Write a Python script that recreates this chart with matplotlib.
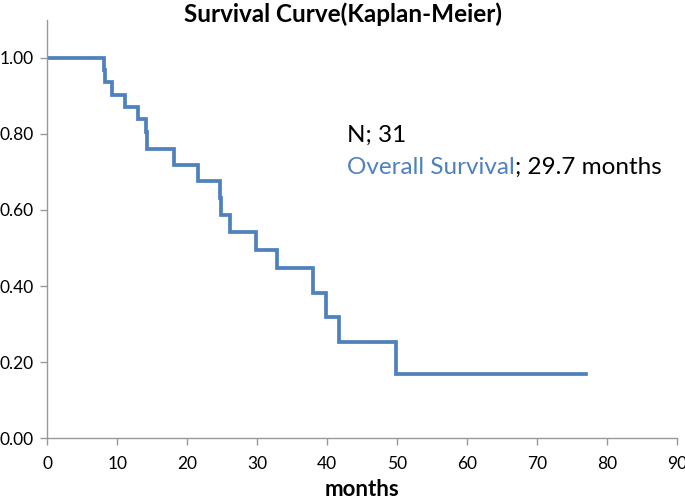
import matplotlib
matplotlib.use("Agg")
import matplotlib.pyplot as plt

# Kaplan-Meier step data (months, survival probability)
times = [0, 8.1, 8.2, 9.2, 11.1, 13.0, 14.1, 14.3, 18.1, 21.6, 24.7, 24.9,
         26.1, 29.8, 32.9, 38.0, 39.9, 41.7, 49.8, 77.0]
survival = [1.0, 0.968, 0.935, 0.903, 0.871, 0.839, 0.806, 0.760, 0.718, 0.677,
            0.631, 0.588, 0.543, 0.495, 0.447, 0.381, 0.320, 0.254, 0.170, 0.170]

x_ticks = [0, 10, 20, 30, 40, 50, 60, 70, 80, 90]
y_ticks = [0.0, 0.2, 0.4, 0.6, 0.8, 1.0]
y_tick_labels = ["0.00", "0.20", "0.40", "0.60", "0.80", "1.00"]

title = "Survival Curve(Kaplan-Meier)"
x_label = "months"
n_text = "N; 31"
os_label = "Overall Survival"
os_value = "; 29.7 months"

line_color = "#4F81BD"
axis_color = "#999999"

plt.rcParams['font.family'] = ['Lato', 'DejaVu Sans']

fig = plt.figure(figsize=(6.85, 5.0), dpi=100)
ax = fig.add_axes([0.069, 0.1234, 0.919, 0.8372])

ax.step(times, survival, where='post', color=line_color, lw=2.7,
        solid_joinstyle='miter')

ax.set_xlim(0, 90)
ax.set_ylim(0, 1.1)
ax.set_xticks(x_ticks)
ax.set_yticks(y_ticks)
ax.set_yticklabels(y_tick_labels)

for s in ['top', 'right']:
    ax.spines[s].set_visible(False)
for s in ['left', 'bottom']:
    ax.spines[s].set_color(axis_color)
    ax.spines[s].set_linewidth(1.0)

ax.tick_params(axis='both', colors=axis_color, length=5, width=1.0,
               labelcolor='black', labelsize=12.5)
ax.tick_params(axis='y', pad=5)
ax.tick_params(axis='x', pad=8)

fig.text(0.5, 0.972, title, ha='center', va='center', fontsize=17.5,
         fontweight='bold')
fig.text(362 / 685, 1 - 489 / 500, x_label, ha='center', va='center',
         fontsize=16, fontweight='bold')

t1 = fig.text(347 / 685, 1 - 141.7 / 500, n_text, ha='left', va='baseline',
              fontsize=17.5, color='black')
t2 = fig.text(347 / 685, 1 - 174 / 500, os_label, ha='left', va='baseline',
              fontsize=17.5, color=line_color)
ax.annotate(os_value, xy=(1, 0), xycoords=t2, ha='left', va='bottom',
            fontsize=17.5, color='black')

fig.savefig("out.png", dpi=100)
